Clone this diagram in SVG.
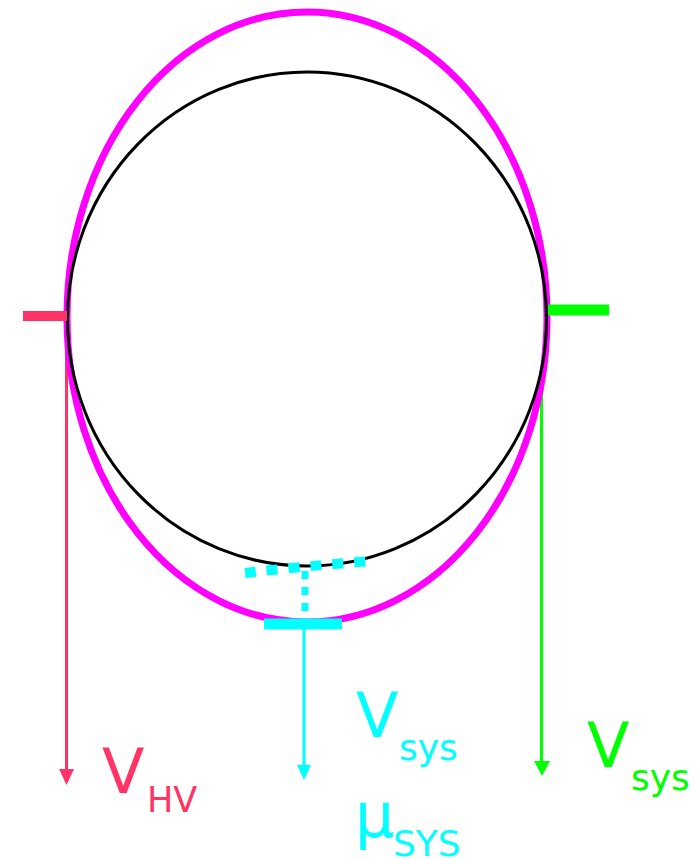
<svg xmlns="http://www.w3.org/2000/svg" width="699" height="860" viewBox="0 0 699 860">
<style>
text{font-family:"DejaVu Sans","Liberation Sans",sans-serif}
.red{fill:#ff3366}.cy{fill:#00ffff}.gr{fill:#00ff00}
</style>
<rect width="699" height="860" fill="#fff"/>
<g id="connectors">
<line x1="66.5" y1="316" x2="66.5" y2="771" stroke="#ff3366" stroke-width="3"/>
<polygon points="59,769 74,769 66.5,785" fill="#ff3366"/>
<line x1="541.5" y1="375" x2="541.5" y2="763" stroke="#00ff00" stroke-width="3"/>
<polygon points="534,761 550,761 542,776" fill="#00ff00"/>
<line x1="304" y1="624" x2="304" y2="767" stroke="#00ffff" stroke-width="3"/>
<polygon points="297,765 311,765 304,780" fill="#00ffff"/>
</g>
<g id="outer-ellipse"><ellipse cx="307" cy="317" rx="240" ry="305" fill="none" stroke="#ff00ff" stroke-width="7"/></g>
<g id="inner-circle"><ellipse cx="307" cy="319" rx="239.5" ry="247" fill="none" stroke="#000" stroke-width="3"/></g>
<g id="hv-port"><line x1="23" y1="316" x2="67" y2="316" stroke="#ff3366" stroke-width="10"/></g>
<g id="sys-port"><line x1="548" y1="310" x2="609" y2="310" stroke="#00ff00" stroke-width="11"/></g>
<g id="mu-port">
<path d="M245,573 Q305,566 371,561" fill="none" stroke="#00ffff" stroke-width="10" stroke-dasharray="11 11"/>
<line x1="305" y1="571" x2="305" y2="618" stroke="#00ffff" stroke-width="7" stroke-dasharray="8 8"/>
<line x1="264" y1="624" x2="342" y2="624" stroke="#00ffff" stroke-width="11"/>
</g>
<g id="label-hv"><text x="102" y="793" font-size="62" class="red">V</text><text x="147" y="812" font-size="35" class="red">HV</text></g>
<g id="label-vsys-cyan"><text x="356" y="737" font-size="62" class="cy">V</text><text x="399" y="760" font-size="36" class="cy">sys</text></g>
<g id="label-mu"><text x="355" y="837" font-size="62" class="cy">μ</text><text x="393" y="856" font-size="36" class="cy">SYS</text></g>
<g id="label-vsys-green"><text x="587" y="767" font-size="62" class="gr">V</text><text x="631" y="790" font-size="36" class="gr">sys</text></g>
</svg>
